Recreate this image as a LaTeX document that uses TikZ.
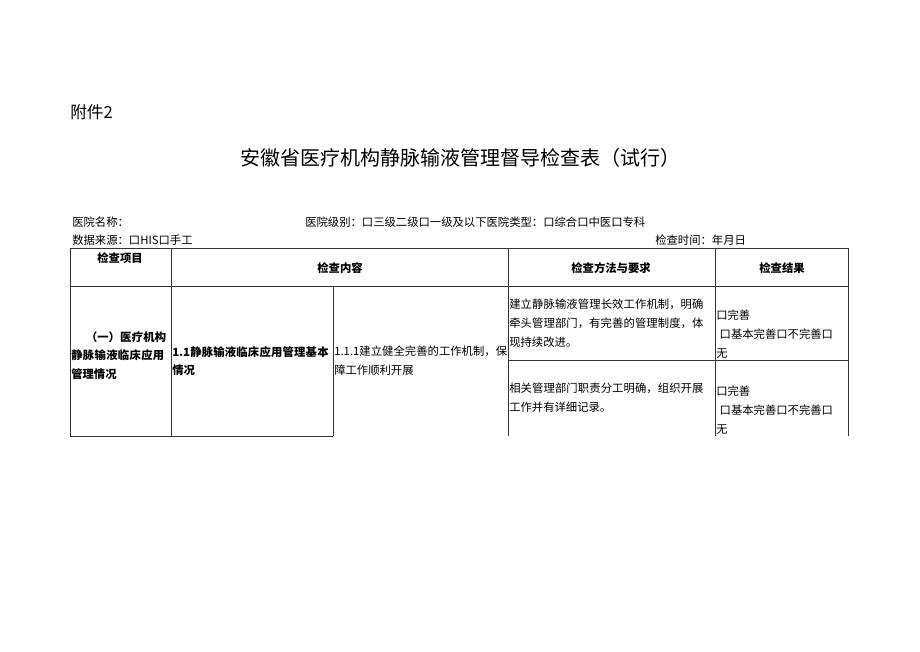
\documentclass[tikz,border=0pt]{standalone}
\usepackage{fontspec}
\setmainfont{Noto Sans CJK SC}
\XeTeXlinebreaklocale "zh"
\XeTeXlinebreakskip=0pt plus 1pt
\begin{document}
\begin{tikzpicture}[x=0.75pt,y=-0.75pt,
  grid/.style={draw=black!80,line width=0.5pt},
  txt/.style={font=\fontsize{8.5}{14}\selectfont,inner sep=0pt,anchor=north west,align=left},
  hd/.style={font=\fontsize{8.5}{12}\selectfont\bfseries,inner sep=0pt}]
\useasboundingbox (0,0) rectangle (920,651);
\node[anchor=west,inner sep=0pt,font=\fontsize{12.5}{14}\selectfont] (att) at (70,112) {附件2};
\node[inner sep=0pt,font=\fontsize{15}{18}\selectfont] (title) at (460,158) {安徽省医疗机构静脉输液管理督导检查表（试行）};
\node[anchor=west,inner sep=0pt,font=\fontsize{8.5}{10}\selectfont] (l1) at (72,222) {医院名称：};
\node[anchor=west,inner sep=0pt,font=\fontsize{8.5}{10}\selectfont] (l2) at (305,222) {医院级别：口三级二级口一级及以下医院类型：口综合口中医口专科};
\node[anchor=west,inner sep=0pt,font=\fontsize{8.5}{10}\selectfont] (l3) at (72,240) {数据来源：口HIS口手工};
\node[anchor=west,inner sep=0pt,font=\fontsize{8.5}{10}\selectfont] (l4) at (655,240) {检查时间：年月日};
% grid
\draw[grid] (70,248) -- (848,248);
\draw[grid] (70,286) -- (848,286);
\draw[grid] (508,360) -- (848,360);
\draw[grid] (70,436) -- (333,436);
\draw[grid] (70,248) -- (70,436);
\draw[grid] (171,248) -- (171,436);
\draw[grid] (333,286) -- (333,436);
\draw[grid] (508,248) -- (508,436);
\draw[grid] (715,248) -- (715,436);
\draw[grid] (848,248) -- (848,436);
% headers
\node[hd] (h1) at (120,258) {检查项目};
\node[hd] (h2) at (340,268) {检查内容};
\node[hd] (h3) at (611,268) {检查方法与要求};
\node[hd] (h4) at (782,268) {检查结果};
% body
\node[txt,font=\fontsize{8.5}{14}\selectfont\bfseries,text width=74pt] (c1) at (71,331) {\hspace*{1.3em}（一）医疗机构静脉输液临床应用管理情况};
\node[txt,font=\fontsize{8.5}{14}\selectfont\bfseries,text width=120pt] (c2) at (172,346) {1.1静脉输液临床应用管理基本情况};
\node[txt,text width=130pt] (c3) at (334,346) {1.1.1建立健全完善的工作机制，保障工作顺利开展};
\node[txt,text width=147pt] (c4) at (509,299) {建立静脉输液管理长效工作机制，明确牵头管理部门，有完善的管理制度，体现持续改进。};
\node[txt,text width=147pt] (c5) at (509,383) {相关管理部门职责分工明确，组织开展工作并有详细记录。};
\node[txt,text width=98pt] (c6) at (716,310) {口完善\\\hspace*{0.3em}口基本完善口不完善口\\无};
\node[txt,text width=98pt] (c7) at (716,386) {口完善\\\hspace*{0.3em}口基本完善口不完善口\\无};
\end{tikzpicture}
\end{document}
